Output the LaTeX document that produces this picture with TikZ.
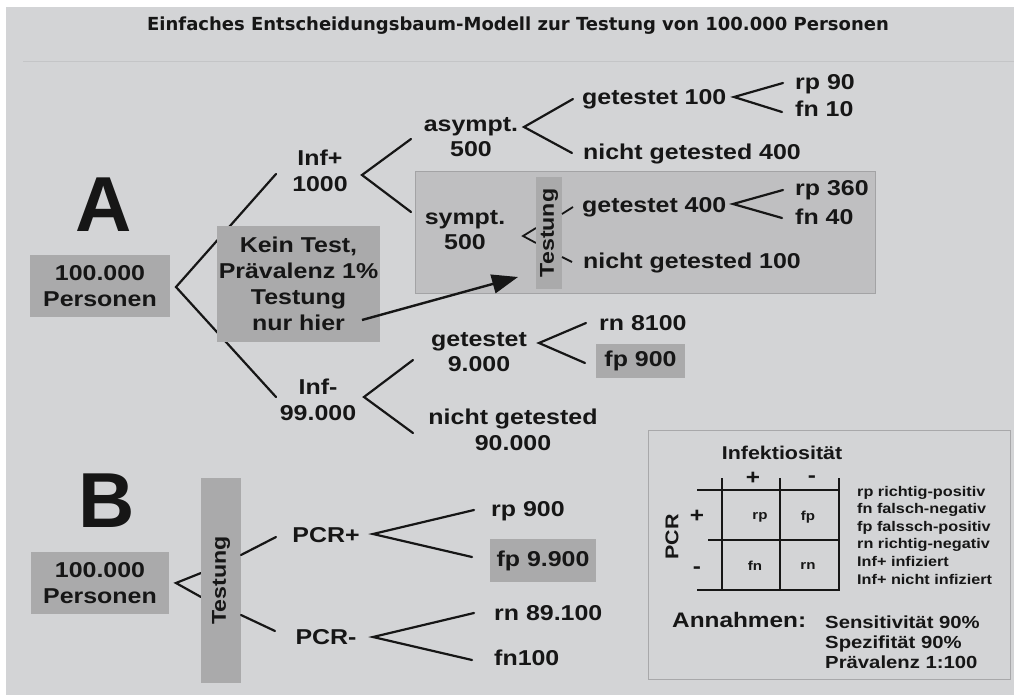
\documentclass[tikz,border=0pt]{standalone}
\usepackage{fontspec}
\usetikzlibrary{arrows.meta}
\newfontfamily\mfb[FakeStretch=1.16]{Liberation Sans}
\newfontfamily\mfplain{Liberation Sans}
\newfontfamily\tfont{DejaVu Sans}
\newcommand\fmain{\mfb\bfseries\fontsize{21.5}{25.8}\selectfont}
\newcommand\ftitle{\tfont\bfseries\fontsize{18}{21}\selectfont}
\newcommand\fbig{\mfplain\bfseries\fontsize{78}{80}\selectfont}
\newcommand\ftest{\mfb\bfseries\fontsize{20}{22}\selectfont}
\newcommand\flegA{\mfb\bfseries\fontsize{18.5}{21}\selectfont}
\newcommand\flegB{\mfb\bfseries\fontsize{14}{17.6}\selectfont}
\newcommand\flegC{\mfb\bfseries\fontsize{17.5}{20}\selectfont}
\newcommand\flegD{\mfb\bfseries\fontsize{21}{24}\selectfont}
\newcommand\fcell{\mfb\bfseries\fontsize{13}{15}\selectfont}
\definecolor{bgc}{RGB}{211,212,214}
\definecolor{boxc}{RGB}{170,170,171}
\definecolor{symc}{RGB}{191,191,193}
\definecolor{symb}{RGB}{163,163,165}
\definecolor{legb}{RGB}{168,168,170}
\definecolor{hlc}{RGB}{196,197,199}
\definecolor{tc}{RGB}{22,22,22}
\tikzset{
  txt/.style={inner sep=0pt, font=\fmain, text=tc, align=center},
  ltxt/.style={inner sep=0pt, font=\fmain, text=tc, anchor=base west},
  gbox/.style={fill=boxc, inner sep=0pt, font=\fmain, text=tc, align=center},
  ln/.style={line width=2.2pt, draw=tc, line cap=round},
  gl/.style={line width=2.6pt, draw=tc},
  sym/.style={inner sep=0pt, text=tc, font=\flegD, text height=8pt, text depth=0pt}
}
\begin{document}
\begin{tikzpicture}[x=1pt,y=-1pt]
\useasboundingbox (0,0) rectangle (1014,695);
\fill[white] (0,0) rectangle (1014,695);
\fill[bgc] (6,7) rectangle (1014,695);
\coordinate (hl1) at (23,61.5);
\coordinate (hl2) at (1014,61.5);
\draw[hlc, line width=1.5pt] (hl1) -- (hl2);

\node[inner sep=0pt, text=tc] (title) at (518,26) {\ftitle Einfaches Entscheidungsbaum-Modell zur Testung von 100.000 Personen};

% ---------- Part A ----------
\node[inner sep=0pt, text=tc, anchor=base, font=\fbig] (lA) at (104,231) {A};

\coordinate (a0) at (176,287);
\coordinate (a1) at (276,174);
\coordinate (a2) at (276,397);
\draw[ln] (a1) -- (a0) -- (a2);

\node[gbox, minimum width=140pt, minimum height=62pt] (p1) at (100,286) {100.000\\Personen};
\node[gbox, minimum width=163pt, minimum height=116pt] (kein) at (298.5,284) {Kein Test,\\Prävalenz 1\%\\Testung\\nur hier};

\node[txt] (infp) at (320,171) {Inf+\\1000};
\coordinate (b0) at (362,175);
\coordinate (b1) at (411,139);
\coordinate (b2) at (411,212);
\draw[ln] (b1) -- (b0) -- (b2);

\node[txt] (asy) at (471,137) {asympt.\\500};
\coordinate (c0) at (524,127);
\coordinate (c1) at (573,99);
\coordinate (c2) at (572,153);
\draw[ln] (c1) -- (c0) -- (c2);

\node[ltxt] (g100) at (582,104.5) {getestet 100};
\coordinate (d0) at (734,97);
\coordinate (d1) at (783,83);
\coordinate (d2) at (782,112);
\draw[ln] (d1) -- (d0) -- (d2);
\node[ltxt] (rp90) at (795,89.5) {rp 90};
\node[ltxt] (fn10) at (795,116.5) {fn 10};
\node[ltxt] (n400) at (583,159.5) {nicht getested 400};

% symptomatic box
\node[fill=symc, draw=symb, line width=1pt, minimum width=460pt, minimum height=121pt, inner sep=0pt] (symbox) at (645,232.5) {};
\node[txt] (sym) at (465,230) {sympt.\\500};
\coordinate (e0) at (523,236);
\coordinate (e1) at (536,228);
\coordinate (e2) at (536,243);
\draw[line width=1.8pt, draw=tc] (e1) -- (e0) -- (e2);
\node[fill=boxc, rotate=90, minimum width=112pt, minimum height=26pt, inner sep=0pt, text=tc, font=\ftest] (testA) at (549,233) {Testung};
\coordinate (t1a) at (562,214);
\coordinate (t1b) at (573,207);
\coordinate (t2a) at (562,257);
\coordinate (t2b) at (572,262);
\draw[line width=1.8pt, draw=tc] (t1a) -- (t1b);
\draw[line width=1.8pt, draw=tc] (t2a) -- (t2b);
\node[ltxt] (g400) at (582,212.5) {getestet 400};
\coordinate (f0) at (733,204);
\coordinate (f1) at (783,190);
\coordinate (f2) at (782,218);
\draw[ln] (f1) -- (f0) -- (f2);
\node[ltxt] (rp360) at (795,195.5) {rp 360};
\node[ltxt] (fn40) at (795,224.5) {fn 40};
\node[ltxt] (n100) at (583,268.5) {nicht getested 100};

% arrow
\coordinate (arS) at (362,320);
\coordinate (arE) at (518,277);
\draw[line width=2.4pt, draw=tc, -{Triangle[length=26pt,width=19pt]}] (arS) -- (arE);

% Inf-
\node[txt] (infm) at (318,400) {Inf-\\99.000};
\coordinate (g0) at (364,397);
\coordinate (g1) at (413,360);
\coordinate (g2) at (413,433);
\draw[ln] (g1) -- (g0) -- (g2);
\node[txt] (g9000) at (479,352) {getestet\\9.000};
\coordinate (h0) at (539,343);
\coordinate (h1) at (586,323);
\coordinate (h2) at (585,363);
\draw[ln] (h1) -- (h0) -- (h2);
\node[ltxt] (rn8100) at (599,330.5) {rn 8100};
\node[gbox, minimum width=89pt, minimum height=34pt] (fp900) at (640.5,361) {fp 900};
\node[txt] (n90000) at (513,430) {nicht getested\\90.000};

% ---------- Part B ----------
\node[inner sep=0pt, text=tc, anchor=base, font=\fbig] (lB) at (107,527) {B};
\node[gbox, minimum width=138pt, minimum height=62pt] (p2) at (100,583) {100.000\\Personen};
\coordinate (i0) at (176,583);
\coordinate (i1) at (201,573);
\coordinate (i2) at (201,597);
\draw[ln] (i1) -- (i0) -- (i2);
\node[fill=boxc, rotate=90, minimum width=205pt, minimum height=40pt, inner sep=0pt, text=tc, font=\ftest] (testB) at (221,580.5) {Testung};
\coordinate (j1a) at (241,555);
\coordinate (j1b) at (276,537);
\coordinate (j2a) at (241,615);
\coordinate (j2b) at (275,631);
\draw[ln] (j1a) -- (j1b);
\draw[ln] (j2a) -- (j2b);
\node[txt, anchor=base] (pcrp) at (326,542.5) {PCR+};
\node[txt, anchor=base] (pcrm) at (326,644.5) {PCR-};
\coordinate (k0) at (373,534);
\coordinate (k1) at (474,510);
\coordinate (k2) at (472,557);
\draw[ln] (k1) -- (k0) -- (k2);
\coordinate (m0) at (373,637);
\coordinate (m1) at (474,613);
\coordinate (m2) at (472,660);
\draw[ln] (m1) -- (m0) -- (m2);
\node[ltxt] (rp900) at (491,516.5) {rp 900};
\node[gbox, minimum width=106pt, minimum height=43pt] (fp9900) at (543,560.5) {fp 9.900};
\node[ltxt] (rn89100) at (494,620.5) {rn 89.100};
\node[ltxt] (fn100) at (494,665.5) {fn100};

% ---------- Legend ----------
\node[draw=legb, line width=1pt, minimum width=362pt, minimum height=249pt, inner sep=0pt] (leg) at (829,554.5) {};
\node[inner sep=0pt, text=tc, font=\flegA] (inf) at (782,453) {Infektiosität};
\node[sym, anchor=base] (ip) at (753,484) {+};
\node[sym, anchor=base] (im) at (812,482) {-};
\coordinate (v1t) at (722,478); \coordinate (v1b) at (722,591);
\coordinate (v2t) at (780,478); \coordinate (v2b) at (780,591);
\coordinate (v3t) at (839,478); \coordinate (v3b) at (839,591);
\coordinate (h1l) at (697,490); \coordinate (h1r) at (839,490);
\coordinate (h2l) at (708,540); \coordinate (h2r) at (839,540);
\coordinate (h3l) at (697,590); \coordinate (h3r) at (839,590);
\draw[gl] (v1t) -- (v1b);
\draw[gl] (v2t) -- (v2b);
\draw[gl] (v3t) -- (v3b);
\draw[gl] (h1l) -- (h1r);
\draw[gl] (h2l) -- (h2r);
\draw[gl] (h3l) -- (h3r);
\node[inner sep=0pt, text=tc, font=\fcell] (crp) at (760,517) {rp};
\node[inner sep=0pt, text=tc, font=\fcell] (cfp) at (808,517) {fp};
\node[inner sep=0pt, text=tc, font=\fcell] (cfn) at (755,566) {fn};
\node[inner sep=0pt, text=tc, font=\fcell] (crn) at (808,566) {rn};
\node[sym, anchor=base] (pp) at (697,522) {+};
\node[sym, anchor=base] (pm) at (697,573) {-};
\node[inner sep=0pt, text=tc, font=\flegA, rotate=90] (pcr) at (672,537) {PCR};
\node[inner sep=0pt, text=tc, font=\flegB, align=left, anchor=north west] (legt) at (857,485.8) {rp richtig-positiv\\fn falsch-negativ\\fp falssch-positiv\\rn richtig-negativ\\Inf+ infiziert\\Inf+ nicht infiziert};
\node[inner sep=0pt, text=tc, font=\flegD, anchor=base west] (ann) at (672,627.5) {Annahmen:};
\node[inner sep=0pt, text=tc, font=\flegC, align=left, anchor=north west] (annt) at (825,615.5) {Sensitivität 90\%\\Spezifität 90\%\\Prävalenz 1:100};
\end{tikzpicture}
\end{document}
